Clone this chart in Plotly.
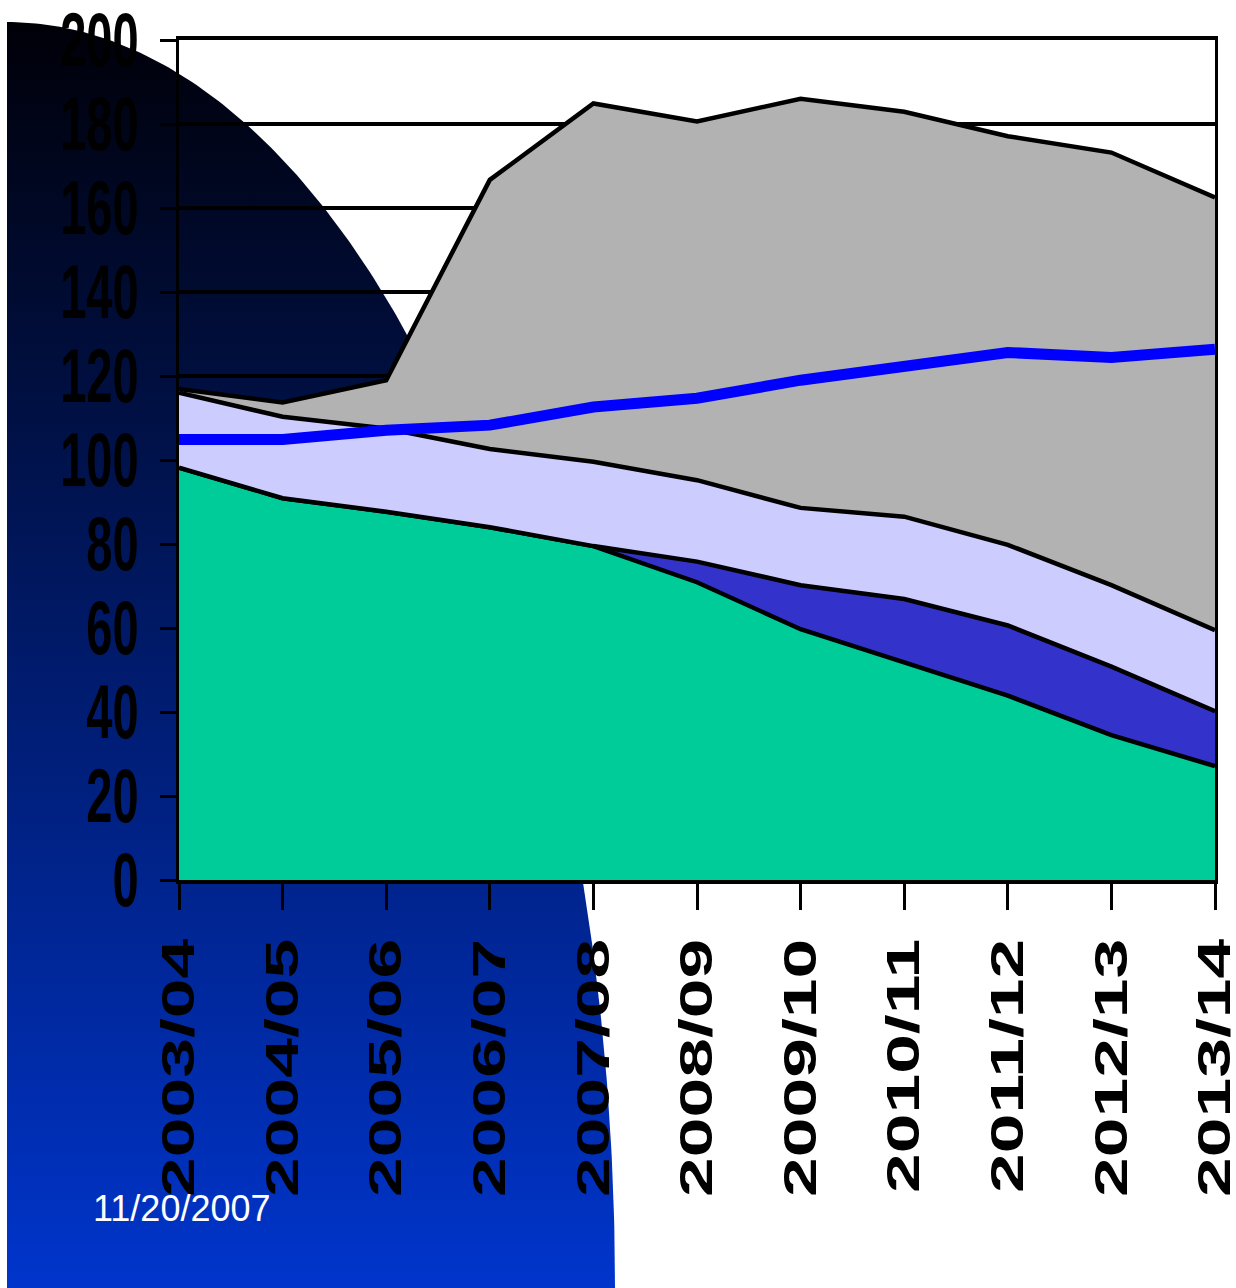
import plotly.graph_objects as go
import numpy as np

# Financial years on the category axis
years = ["2003/04", "2004/05", "2005/06", "2006/07", "2007/08", "2008/09",
         "2009/10", "2010/11", "2011/12", "2012/13", "2013/14"]

# Stacked components (bottom to top)
green_vals = [98.2, 90.9, 87.7, 84.0, 79.5, 70.9, 59.7, 51.7, 43.9, 34.5, 27.1]
navy_vals = [0.0, 0.0, 0.0, 0.0, 0.0, 4.9, 10.5, 15.2, 16.7, 16.3, 13.1]
lavender_vals = [17.8, 19.4, 19.8, 18.6, 20.1, 19.4, 18.4, 19.6, 19.2, 19.4, 19.3]
grey_vals = [0.9, 3.4, 11.5, 64.1, 85.3, 85.4, 97.4, 96.4, 97.3, 103.0, 103.0]

# Overlaid requirement line
line_vals = [104.9, 104.9, 107.1, 108.3, 112.6, 114.7, 119.0, 122.6, 125.6, 124.4, 126.4]

y_ticks = [0, 20, 40, 60, 80, 100, 120, 140, 160, 180, 200]
date_label = "11/20/2007"

W, H = 1236, 1288
PL, PR, PT, PB = 179, 1215, 40, 880   # plot area in pixels

fig = go.Figure()

# Slide backdrop: quarter-ellipse with a dark-to-blue vertical gradient
t = np.linspace(0, np.pi / 2, 200)
ex = list(7 + 608 * np.cos(t)) + [7, 7 + 608]
ey = list(1288 - 1266 * np.sin(t)) + [1288, 1288]
fig.add_trace(go.Scatter(
    x=ex, y=ey, xaxis="x", yaxis="y", mode="lines", fill="toself",
    line=dict(width=0, color="rgba(0,0,0,0)"),
    fillgradient=dict(type="vertical",
                      colorscale=[[0, "#000008"], [1, "#0035cc"]],
                      start=22, stop=1288),
    hoverinfo="skip", showlegend=False))

edge = dict(color="black", width=4.5)
series = [
    (green_vals, "#00CC99"),
    (navy_vals, "#3333CC"),
    (lavender_vals, "#CCCCFF"),
    (grey_vals, "#B2B2B2"),
]
for vals, col in series:
    fig.add_trace(go.Scatter(
        x=years, y=vals, xaxis="x2", yaxis="y2", mode="lines",
        stackgroup="one", fillcolor=col, line=edge,
        hoverinfo="skip", showlegend=False))

fig.add_trace(go.Scatter(
    x=years, y=line_vals, xaxis="x2", yaxis="y2", mode="lines",
    line=dict(color="#0000FF", width=11),
    hoverinfo="skip", showlegend=False))

tick_font = dict(family="Liberation Sans, Arial, sans-serif", size=47,
                 color="black", weight="bold")

fig.update_layout(
    width=W, height=H, autosize=False,
    margin=dict(l=0, r=0, t=0, b=0, pad=0, autoexpand=False),
    paper_bgcolor="white",
    plot_bgcolor="rgba(0,0,0,0)",
    hovermode=False,
    showlegend=False,
    xaxis=dict(domain=[0, 1], range=[0, W], visible=False, fixedrange=True,
               automargin=False),
    yaxis=dict(domain=[0, 1], range=[H, 0], visible=False, fixedrange=True,
               automargin=False),
    xaxis2=dict(
        domain=[PL / W, PR / W], anchor="y2", type="category",
        range=[0, len(years) - 1], automargin=False,
        showgrid=False, zeroline=False,
        showline=True, linecolor="black", linewidth=4, mirror=True,
        ticks="outside", ticklen=26, tickwidth=3, tickcolor="black",
        tickangle=-90, tickfont=tick_font, ticklabelstandoff=10,
    ),
    yaxis2=dict(
        domain=[1 - PB / H, 1 - PT / H], anchor="x2",
        range=[0, 200], tickmode="array", tickvals=y_ticks,
        ticktext=[str(v) for v in y_ticks], automargin=False,
        showgrid=True, gridcolor="black", gridwidth=4, zeroline=False,
        showline=True, linecolor="black", linewidth=3, mirror=True,
        ticks="outside", ticklen=16, tickwidth=3, tickcolor="black",
        tickfont=tick_font, ticklabelstandoff=12,
    ),
    annotations=[dict(
        text=date_label, xref="paper", yref="paper",
        x=182 / W, y=1 - 1208 / H, xanchor="center", yanchor="middle",
        showarrow=False,
        font=dict(family="Liberation Sans, Arial, sans-serif", size=36,
                  color="white"),
    )],
)

# Tall, narrow tick lettering: stretch labels vertically
post = """
(function(){
  var gd = document.getElementById('{plot_id}');
  function stretch(sel, k, anchorTop){
    gd.querySelectorAll(sel).forEach(function(t){
      var svg = t.ownerSVGElement;
      var g = document.createElementNS('http://www.w3.org/2000/svg', 'g');
      t.parentNode.insertBefore(g, t);
      g.appendChild(t);
      var r = t.getBoundingClientRect();
      var s = svg.getBoundingClientRect();
      var cx = r.left + r.width / 2 - s.left;
      var cy = (anchorTop ? r.top : r.top + r.height / 2) - s.top;
      var p = svg.createSVGPoint(); p.x = cx; p.y = cy;
      var q = p.matrixTransform(g.getCTM().inverse());
      g.setAttribute('transform', 'translate(' + q.x + ',' + q.y + ') scale(1,' + k +
                     ') translate(' + (-q.x) + ',' + (-q.y) + ')');
    });
  }
  stretch('.x2tick text', 1.52, true);
  stretch('.y2tick text', 1.6, false);
})();
"""

fig.write_html("out.html", post_script=post)
